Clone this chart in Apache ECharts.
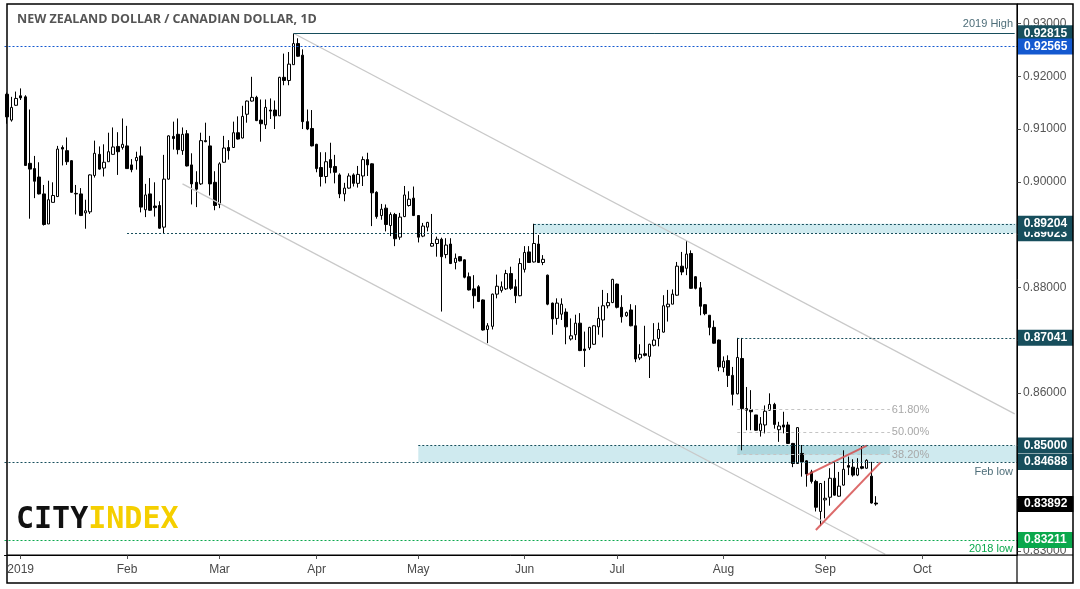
<!DOCTYPE html>
<html><head><meta charset="utf-8">
<script src="https://cdn.jsdelivr.net/npm/echarts@6.0.0/dist/echarts.min.js"></script>
<style>html,body{margin:0;padding:0;background:#fff}#c{width:1080px;height:589px}</style>
</head><body><div id="c"></div>
<script>
// Trading days (daily bars) by month
const tradingDays = {
  '2018-12': [27,28,31],
  '2019-01': [1,2,3,4,7,8,9,10,11,14,15,16,17,18,21,22,23,24,25,28,29,30,31],
  '2019-02': [1,4,5,6,7,8,11,12,13,14,15,18,19,20,21,22,25,26,27,28],
  '2019-03': [1,4,5,6,7,8,11,12,13,14,15,18,19,20,21,22,25,26,27,28,29],
  '2019-04': [1,2,3,4,5,8,9,10,11,12,15,16,17,18,19,22,23,24,25,26,29,30],
  '2019-05': [1,2,3,6,7,8,9,10,13,14,15,16,17,20,21,22,23,24,27,28,29,30,31],
  '2019-06': [3,4,5,6,7,10,11,12,13,14,17,18,19,20,21,24,25,26,27,28],
  '2019-07': [1,2,3,4,5,8,9,10,11,12,15,16,17,18,19,22,23,24,25,26,29,30,31],
  '2019-08': [1,2,5,6,7,8,9,12,13,14,15,16,19,20,21,22,23,26,27,28,29,30],
  '2019-09': [2,3,4,5,6,9,10,11,12,13,16,17,18,19,20,23,24,25,26,27,30],
  '2019-10': [1,2,3,4,7,8,9,10,11,14,15,16,17,18,21,22,23,24,25,28,29]
};
const categories = [];
Object.keys(tradingDays).forEach(m => tradingDays[m].forEach(d => categories.push(m + '-' + String(d).padStart(2,'0'))));
const lastCategory = categories[categories.length - 1];

const monthTickLabels = {'2019-01':'2019','2019-02':'Feb','2019-03':'Mar','2019-04':'Apr','2019-05':'May','2019-06':'Jun','2019-07':'Jul','2019-08':'Aug','2019-09':'Sep','2019-10':'Oct'};
// price-axis labels hidden behind price tags
const hiddenPriceLabels = ['0.84000'];

// NZD/CAD daily OHLC, 27 Dec 2018 .. 17 Sep 2019
const opens = [
0.9166,0.9117,0.9145,0.9163,0.9161,0.9035,0.9025,0.9009,0.8977,0.8920,0.8961,0.8972,0.9065,0.9059,0.9040,0.8978,0.8977,0.8941,0.8943,0.9012,
0.9052,0.9026,0.9038,0.9052,0.9067,0.9065,0.9068,0.9032,0.9040,0.9049,0.8947,0.8977,0.8954,0.8955,0.8914,0.9005,0.9086,0.9090,0.9059,0.9091,
0.9032,0.8999,0.8996,0.9078,0.9068,0.8999,0.8957,0.9037,0.9065,0.9065,0.9093,0.9083,0.9128,0.9153,0.9160,0.9117,0.9108,0.9136,0.9136,0.9125,
0.9198,0.9192,0.9222,0.9262,0.9240,0.9114,0.9101,0.9071,0.9027,0.9010,0.9042,0.9029,0.9013,0.8977,0.8988,0.9013,0.8997,0.9011,0.9042,0.9034,
0.8980,0.8936,0.8950,0.8917,0.8938,0.8895,0.8934,0.8955,0.8969,0.8936,0.8897,0.8914,0.8878,0.8883,0.8891,0.8862,0.8882,0.8847,0.8858,0.8852,
0.8820,0.8797,0.8801,0.8776,0.8720,0.8726,0.8787,0.8794,0.8797,0.8826,0.8801,0.8784,0.8834,0.8867,0.8848,0.8882,0.8847,0.8823,0.8770,0.8741,
0.8749,0.8753,0.8702,0.8710,0.8732,0.8683,0.8685,0.8692,0.8725,0.8738,0.8765,0.8771,0.8806,0.8762,0.8746,0.8757,0.8727,0.8666,0.8674,0.8669,
0.8690,0.8703,0.8715,0.8763,0.8768,0.8785,0.8840,0.8836,0.8864,0.8820,0.8799,0.8767,0.8747,0.8724,0.8700,0.8648,0.8661,0.8633,0.8598,0.8665,
0.8570,0.8568,0.8558,0.8528,0.8539,0.8567,0.8578,0.8530,0.8539,0.8539,0.8504,0.8466,0.8485,0.8471,0.8450,0.8432,0.8375,0.8397,0.8402,0.8438,
0.8404,0.8425,0.8462,0.8459,0.8444,0.8460,0.8457,0.8442,0.8391];
const closes = [
0.9123,0.9141,0.9158,0.9159,0.9031,0.9024,0.9001,0.8977,0.8919,0.8966,0.8974,0.9062,0.9062,0.9038,0.8980,0.8977,0.8936,0.8945,0.9013,0.9054,
0.9024,0.9037,0.9057,0.9066,0.9057,0.9071,0.9025,0.9023,0.9046,0.8952,0.8975,0.8946,0.8951,0.8912,0.9005,0.9087,0.9082,0.9061,0.9090,0.9030,
0.8996,0.8986,0.9078,0.9076,0.8996,0.8955,0.9034,0.9064,0.9059,0.9093,0.9081,0.9124,0.9153,0.9160,0.9116,0.9110,0.9141,0.9134,0.9125,0.9198,
0.9192,0.9223,0.9262,0.9238,0.9114,0.9100,0.9068,0.9025,0.9010,0.9038,0.9027,0.9018,0.8977,0.8988,0.9011,0.8997,0.9014,0.9042,0.9032,0.8979,
0.8934,0.8948,0.8919,0.8938,0.8892,0.8933,0.8975,0.8967,0.8936,0.8895,0.8916,0.8923,0.8883,0.8891,0.8858,0.8880,0.8845,0.8855,0.8850,0.8819,
0.8795,0.8784,0.8773,0.8719,0.8727,0.8787,0.8802,0.8801,0.8826,0.8798,0.8784,0.8845,0.8866,0.8847,0.8883,0.8847,0.8853,0.8768,0.8740,0.8770,
0.8768,0.8725,0.8708,0.8732,0.8680,0.8680,0.8724,0.8727,0.8741,0.8765,0.8771,0.8815,0.8762,0.8744,0.8752,0.8727,0.8664,0.8673,0.8671,0.8692,
0.8700,0.8720,0.8765,0.8768,0.8787,0.8840,0.8829,0.8863,0.8798,0.8798,0.8764,0.8750,0.8724,0.8694,0.8649,0.8660,0.8633,0.8597,0.8667,0.8570,
0.8567,0.8564,0.8529,0.8541,0.8565,0.8578,0.8540,0.8537,0.8535,0.8504,0.8466,0.8534,0.8469,0.8446,0.8432,0.8383,0.8428,0.8400,0.8438,0.8406,
0.8423,0.8455,0.8459,0.8444,0.8457,0.8457,0.8472,0.8391,0.83892];
const lows = [
0.9110,0.9114,0.9144,0.9155,0.9030,0.8930,0.8969,0.8976,0.8917,0.8920,0.8961,0.8971,0.9031,0.9032,0.8979,0.8938,0.8935,0.8911,0.8939,0.9008,
0.9023,0.9010,0.9038,0.9052,0.9013,0.9061,0.9025,0.9018,0.9023,0.8942,0.8933,0.8945,0.8934,0.8911,0.8902,0.9004,0.9061,0.9052,0.9051,0.9029,
0.8957,0.8952,0.8994,0.9075,0.8974,0.8946,0.8950,0.9036,0.9042,0.9064,0.9080,0.9082,0.9112,0.9152,0.9115,0.9076,0.9100,0.9119,0.9100,0.9125,
0.9183,0.9183,0.9222,0.9237,0.9100,0.9098,0.9067,0.9018,0.8991,0.8997,0.9016,0.8997,0.8969,0.8963,0.8987,0.8991,0.8989,0.8992,0.9011,0.8916,
0.8930,0.8928,0.8906,0.8897,0.8878,0.8890,0.8933,0.8953,0.8935,0.8885,0.8895,0.8906,0.8877,0.8858,0.8754,0.8855,0.8844,0.8834,0.8849,0.8817,
0.8794,0.8760,0.8772,0.8718,0.8694,0.8720,0.8779,0.8790,0.8795,0.8795,0.8770,0.8783,0.8828,0.8846,0.8847,0.8846,0.8842,0.8766,0.8710,0.8729,
0.8738,0.8692,0.8699,0.8700,0.8679,0.8649,0.8681,0.8691,0.8710,0.8705,0.8760,0.8770,0.8760,0.8733,0.8744,0.8726,0.8658,0.8662,0.8669,0.8628,
0.8688,0.8688,0.8714,0.8735,0.8768,0.8784,0.8823,0.8823,0.8797,0.8796,0.8747,0.8747,0.8709,0.8693,0.8641,0.8639,0.8611,0.8576,0.8597,0.8491,
0.8529,0.8529,0.8528,0.8517,0.8523,0.8566,0.8532,0.8507,0.8523,0.8503,0.8459,0.8465,0.8441,0.8422,0.8428,0.8375,0.8348,0.8362,0.8386,0.8405,
0.8403,0.8424,0.8444,0.8441,0.8442,0.8455,0.8456,0.8390,0.8386];
const highs = [
0.9169,0.9161,0.9171,0.9177,0.9164,0.9137,0.9049,0.9037,0.8994,0.9002,0.8999,0.9068,0.9069,0.9084,0.9041,0.8994,0.8988,0.8966,0.9014,0.9078,
0.9067,0.9071,0.9093,0.9103,0.9094,0.9120,0.9106,0.9043,0.9057,0.9067,0.8996,0.9007,0.8999,0.8963,0.9051,0.9088,0.9114,0.9120,0.9103,0.9098,
0.9054,0.9020,0.9093,0.9112,0.9087,0.9020,0.9037,0.9087,0.9079,0.9114,0.9124,0.9144,0.9154,0.9199,0.9163,0.9156,0.9156,0.9158,0.9154,0.9199,
0.9243,0.9246,0.92815,0.9272,0.9251,0.9137,0.9136,0.9072,0.9056,0.9056,0.9074,0.9051,0.9016,0.8998,0.9016,0.9016,0.9030,0.9048,0.9055,0.9035,
0.8982,0.8958,0.8957,0.8942,0.8941,0.8941,0.8992,0.8982,0.8991,0.8937,0.8922,0.8924,0.8939,0.8896,0.8894,0.8893,0.8893,0.8864,0.8859,0.8853,
0.8828,0.8823,0.8804,0.8777,0.8732,0.8788,0.8824,0.8811,0.8833,0.8839,0.8815,0.8855,0.8878,0.8878,0.89204,0.8899,0.8861,0.8824,0.8771,0.8779,
0.8779,0.8760,0.8741,0.8748,0.8751,0.8716,0.8725,0.8728,0.8763,0.8795,0.8789,0.8816,0.8807,0.8785,0.8754,0.8768,0.8766,0.8692,0.8727,0.8693,
0.8732,0.8733,0.8785,0.8795,0.8796,0.8848,0.8867,0.8888,0.8870,0.8821,0.8810,0.8768,0.8747,0.8737,0.8701,0.8669,0.8671,0.8649,0.87041,0.8704,
0.8611,0.8605,0.8558,0.8554,0.8576,0.8599,0.8581,0.8545,0.8564,0.8545,0.8505,0.8535,0.8501,0.8472,0.8454,0.8435,0.8429,0.8433,0.8457,0.8469,
0.8450,0.8491,0.8479,0.8474,0.8476,0.8499,0.8474,0.8469,0.8404];

// Horizontal levels and tags
const high2019 = 0.92815, resistBlue = 0.92565;
const zoneUpper = [0.89204, 0.89023];
const level87 = 0.87041;
const zoneLower = [0.85000, 0.84688];
const low2018 = 0.83211;
const lastPrice = 0.83892;
// Fibonacci retracement (Aug 6 high -> Aug 30 low)
const fibRatios = ['61.80%', '50.00%', '38.20%'];
const fibPrices = [0.8568, 0.8526, 0.8483];
// Trend channel / wedge anchors [date, price]
const channelUpper = [['2019-03-25', 0.92815], ['2019-10-29', 0.8560]];
const channelLower = [['2019-02-19', 0.8996], ['2019-09-19', 0.8294]];
const wedgeUpper = [['2019-08-27', 0.8444], ['2019-09-13', 0.8500]];
const wedgeLower = [['2019-08-29', 0.8340], ['2019-09-18', 0.8468]];

const TEAL = '#174e5c', BLUE = '#1459d0', GREEN = '#0aa84c', NOTE = '#4e6e79';
const FONT = '"Liberation Sans", Arial, sans-serif';
const CLEAR = {color: 'rgba(0,0,0,0)', width: 1};

function tag(bg, text, dist) {
  return {show: true, position: 'end', distance: dist, formatter: text, color: '#fff', fontWeight: 'bold',
    fontSize: 12, fontFamily: FONT, backgroundColor: bg, padding: [2, 6, 2, 6], lineHeight: 12};
}
function hline(fromCat, value, color, labelBg, dashed) {
  const style = {color: color, width: 1, type: dashed ? [2, 2] : 'solid'};
  if (fromCat) {
    return [{coord: [fromCat, value], lineStyle: style, label: tag(labelBg, value.toFixed(5), 3)}, {coord: [lastCategory, value]}];
  }
  return [{coord: [-Infinity, value], lineStyle: style, label: tag(labelBg, value.toFixed(5), 1)}, {coord: [Infinity, value]}];
}
function note(value, text, color, pos) {
  return [{coord: [-Infinity, value], lineStyle: CLEAR, label: {show: true, position: pos, distance: 4, formatter: text, color: color, fontSize: 11, fontFamily: FONT}},
          {coord: [Infinity, value]}];
}
function seg(pts, color, width) {
  return [{coord: pts[0], lineStyle: {color: color, width: width, type: 'solid'}, label: {show: false}}, {coord: pts[1]}];
}

const markLines = [];
markLines.push(seg(channelUpper, '#c9c9c9', 1.3));
markLines.push(seg(channelLower, '#c9c9c9', 1.3));
fibPrices.forEach((p, i) => {
  markLines.push([{coord: ['2019-08-06', p], lineStyle: {color: '#c4c4c4', width: 1, type: [3, 3]},
    label: {show: true, position: 'end', distance: 2, formatter: fibRatios[i], color: '#a8a8a8', fontSize: 11, fontFamily: FONT, padding: [0, 0, 14, 0]}},
    {coord: ['2019-09-20', p]}]);
});
markLines.push(seg(wedgeUpper, 'rgba(214,80,80,0.85)', 2));
markLines.push(seg(wedgeLower, 'rgba(214,80,80,0.85)', 2));
markLines.push(note(high2019, '2019 High', NOTE, 'insideEndTop'));
markLines.push(note(zoneLower[1], 'Feb low', NOTE, 'insideEndBottom'));
markLines.push(note(low2018, '2018 low', GREEN, 'insideEndBottom'));
markLines.push(hline('2019-03-25', high2019, TEAL, TEAL, false));
markLines.push(hline(null, resistBlue, BLUE, BLUE, true));
markLines.push(hline('2019-02-01', zoneUpper[1], TEAL, TEAL, true));
markLines.push(hline('2019-06-05', zoneUpper[0], TEAL, TEAL, true));
markLines.push(hline('2019-08-06', level87, TEAL, TEAL, true));
markLines.push(hline('2019-05-01', zoneLower[0], TEAL, TEAL, true));
markLines.push(hline(null, zoneLower[1], TEAL, TEAL, true));
markLines.push(hline(null, low2018, GREEN, GREEN, true));
markLines.push([{coord: [-Infinity, lastPrice], lineStyle: CLEAR, label: tag('#000', lastPrice.toFixed(5), 1)}, {coord: [Infinity, lastPrice]}]);

const isMonthStart = (idx) => idx > 0 && categories[idx].slice(0, 7) !== categories[idx - 1].slice(0, 7);

const candleData = opens.map((o, i) => [o, closes[i], lows[i], highs[i]]);

const chart = echarts.init(document.getElementById('c'));
chart.setOption({
  animation: false,
  backgroundColor: '#fff',
  grid: {left: 4.5, right: 63, top: 4, bottom: 34, containLabel: false},
  xAxis: {
    type: 'category', data: categories, boundaryGap: true,
    axisLine: {show: true, lineStyle: {color: '#000', width: 1}},
    axisTick: {show: true, interval: (idx) => isMonthStart(idx), alignWithLabel: true, length: 4, lineStyle: {color: '#555'}},
    axisLabel: {interval: (idx) => isMonthStart(idx), formatter: (v) => monthTickLabels[v.slice(0, 7)] || '',
      color: '#4a4a4a', fontSize: 12, fontFamily: FONT, margin: 9},
    splitLine: {show: false}
  },
  yAxis: {
    type: 'value', position: 'right', min: 0.82925, max: 0.9337,
    minInterval: 0.01, maxInterval: 0.01, splitNumber: 10,
    axisLine: {show: true, lineStyle: {color: '#000', width: 1}},
    axisTick: {show: true, length: 4, lineStyle: {color: '#555'}},
    axisLabel: {showMinLabel: false, showMaxLabel: false, color: '#555', fontSize: 12, fontFamily: FONT, margin: 6,
      formatter: (v) => {
        if (Math.abs(v * 100 - Math.round(v * 100)) > 1e-6) return '';
        const s = v.toFixed(5);
        return hiddenPriceLabels.indexOf(s) >= 0 ? '' : s;
      }},
    splitLine: {show: false}
  },
  series: [{
    type: 'candlestick', data: candleData, barWidth: 3,
    itemStyle: {color: '#ffffff', color0: '#000000', borderColor: '#000000', borderColor0: '#000000', borderWidth: 1},
    markArea: {
      silent: true,
      data: [
        [{xAxis: '2019-06-05', yAxis: zoneUpper[0], itemStyle: {color: 'rgba(140,206,216,0.42)'}}, {xAxis: Infinity, yAxis: zoneUpper[1]}],
        [{xAxis: '2019-05-01', yAxis: zoneLower[0], itemStyle: {color: 'rgba(140,206,216,0.42)'}}, {xAxis: Infinity, yAxis: zoneLower[1]}],
        [{xAxis: '2019-08-06', yAxis: zoneLower[0], itemStyle: {color: 'rgba(60,150,165,0.22)'}}, {xAxis: '2019-09-20', yAxis: fibPrices[2]}]
      ]
    },
    markLine: {silent: true, symbol: ['none', 'none'], animation: false, data: markLines}
  }],
  graphic: [
    {type: 'text', left: 17, top: 13, z: 100, style: {text: 'NEW ZEALAND DOLLAR / CANADIAN DOLLAR, 1D', font: 'bold 12.5px "Open Sans", sans-serif', fill: '#555'}},
    {type: 'text', left: 16, top: 505, z: 100, style: {text: '{a|CITY}{b|INDEX}', rich: {
      a: {fontFamily: '"DejaVu Sans Mono", monospace', fontWeight: 'bold', fontSize: 30, fill: '#111'},
      b: {fontFamily: '"DejaVu Sans Mono", monospace', fontWeight: 'bold', fontSize: 30, fill: '#f5cf00'}}}},
    {type: 'rect', z: 100, shape: {x: 7, y: 4, width: 1066, height: 579}, style: {fill: 'none', stroke: '#000', lineWidth: 1.5}},
    {type: 'line', z: 100, shape: {x1: 1017, y1: 4, x2: 1017, y2: 583}, style: {stroke: '#000', lineWidth: 1.2}},
    {type: 'line', z: 100, shape: {x1: 7, y1: 555, x2: 1073, y2: 555}, style: {stroke: '#000', lineWidth: 1.2}}
  ]
});
</script>
</body></html>
